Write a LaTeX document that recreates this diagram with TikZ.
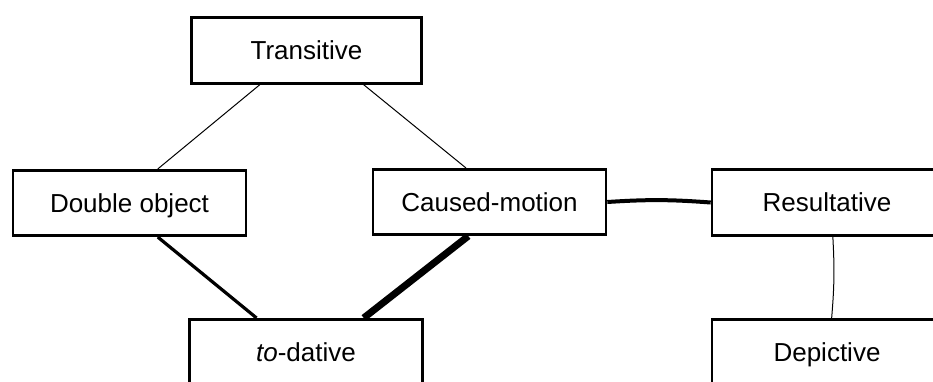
\documentclass[tikz,border=0pt]{standalone}
\usepackage{fontspec}
\setmainfont{Liberation Sans}
\usetikzlibrary{calc}
\begin{document}
\begin{tikzpicture}[x=1pt,y=-1pt,
  cxn/.style={draw, line width=2.6pt, minimum width=230pt, minimum height=65.5pt,
    inner sep=0pt, text height=18.8pt, text depth=0pt,
    font=\fontsize{26}{31}\selectfont},
  wide/.style={minimum width=233pt},
  weak/.style={line width=1pt},
  mid/.style={line width=3.2pt},
  strong/.style={line width=7pt},
  medium/.style={line width=4pt}]
\useasboundingbox (0,0) rectangle (933,381);
\clip (0,0) rectangle (933,381);

% constructions
\node[cxn] (T)  at (306.5,50.5) {Transitive};
\node[cxn,wide] (DO) at (129.5,203) {Double object};
\node[cxn,wide] (CM) at (489.5,202) {Caused-motion};
\node[cxn] (R)  at (827,202.5) {Resultative};
\node[cxn,wide] (TD) at (306,352) {\textit{to}-dative};
\node[cxn] (D)  at (827,352) {Depictive};

% links between constructions
\draw[weak] ($(T.south west)!0.30!(T.south east)$) -- ($(DO.north west)!0.62!(DO.north east)$);
\draw[weak] ($(T.south west)!0.745!(T.south east)$) -- ($(CM.north west)!0.40!(CM.north east)$);
\draw[mid] ($(DO.south west)!0.62!(DO.south east)$) -- ($(TD.north west)!0.29!(TD.north east)$);
\draw[strong] ($(CM.south west)!0.41!(CM.south east)$) -- ($(TD.north west)!0.745!(TD.north east)$);
\draw[medium] (CM.east) to[bend left=4] (R.west);
\draw[weak] ($(R.south west)!0.525!(R.south east)$) to[bend left=4] ($(D.north west)!0.52!(D.north east)$);
\end{tikzpicture}
\end{document}
